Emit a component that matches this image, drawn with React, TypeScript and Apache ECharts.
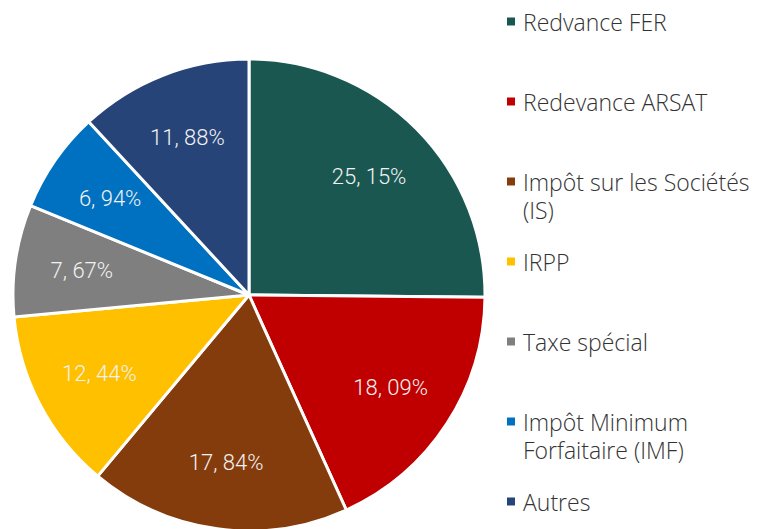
import React, { useEffect, useRef } from 'react';
import * as echarts from 'echarts';

const categories = [
  'Redvance FER',
  'Redevance ARSAT',
  'Impôt sur les Sociétés (IS)',
  'IRPP',
  'Taxe spécial',
  'Impôt Minimum Forfaitaire (IMF)',
  'Autres',
];
const shares = [25.15, 18.09, 17.84, 12.44, 7.67, 6.94, 11.88];
const legendLines = [
  ['Redvance FER'],
  ['Redevance ARSAT'],
  ['Impôt sur les Sociétés', '(IS)'],
  ['IRPP'],
  ['Taxe spécial'],
  ['Impôt Minimum', 'Forfaitaire (IMF)'],
  ['Autres'],
];
const colors = ['#1B5751', '#C00000', '#843C0C', '#FFC000', '#7F7F7F', '#0070C0', '#264478'];

const fmt = (v: number) => v.toFixed(2).replace('.', ', ') + '%';

export default function App() {
  const ref = useRef<HTMLDivElement>(null);
  useEffect(() => {
    if (!ref.current) return;
    const chart = echarts.init(ref.current, undefined, { renderer: 'svg' });
    const data = categories.map((name, i) => ({ name, value: shares[i], itemStyle: { color: colors[i] } }));
    const rich: any = {
      t: { fontFamily: 'Open Sans', fontWeight: 300, fontSize: 23, lineHeight: 28, color: '#333333', verticalAlign: 'middle' },
      s: { width: 16, height: 8, verticalAlign: 'middle' },
      g: { width: 8, height: 8, verticalAlign: 'middle' },
    };
    colors.forEach((c, i) => {
      rich['i' + i] = { width: 8, height: 8, backgroundColor: c, verticalAlign: 'middle' };
    });
    chart.setOption({
      animation: false,
      backgroundColor: '#ffffff',
      legend: {
        orient: 'vertical',
        left: 502,
        top: 10,
        height: 600,
        padding: 0,
        itemGap: 29,
        itemWidth: 0,
        itemHeight: 0,
        icon: 'none',
        selectedMode: false,
        data: categories,
        formatter: (name: string) => {
          const i = categories.indexOf(name);
          const lines = legendLines[i];
          const second = lines[1] ?? (i < categories.length - 1 ? ' ' : null);
          const first = `{i${i}|}{g|}{t|${lines[0]}}`;
          return second === null ? first : `${first}\n{s|}{t|${second}}`;
        },
        textStyle: { rich },
      },
      series: [
        {
          type: 'pie',
          center: [249, 295],
          radius: 236,
          startAngle: 90,
          clockwise: true,
          silent: true,
          label: { show: false },
          labelLine: { show: false },
          itemStyle: { borderColor: '#ffffff', borderWidth: 3 },
          emphasis: { disabled: true },
          data,
        },
        {
          type: 'pie',
          center: [249, 295],
          radius: [120, 212],
          startAngle: 90,
          clockwise: true,
          silent: true,
          z: 5,
          itemStyle: { color: 'transparent', borderWidth: 0 },
          label: {
            show: true,
            position: 'inside',
            formatter: (p: any) => fmt(p.value),
            fontFamily: 'Roboto',
            fontWeight: 300,
            fontSize: 22,
            color: '#F2F2F2',
          },
          labelLine: { show: false },
          emphasis: { disabled: true },
          data: categories.map((name, i) => ({ name, value: shares[i] })),
        },
      ],
    });
    return () => chart.dispose();
  }, []);
  return <div ref={ref} style={{ position: 'absolute', left: 0, top: 0, width: 760, height: 529 }} />;
}
